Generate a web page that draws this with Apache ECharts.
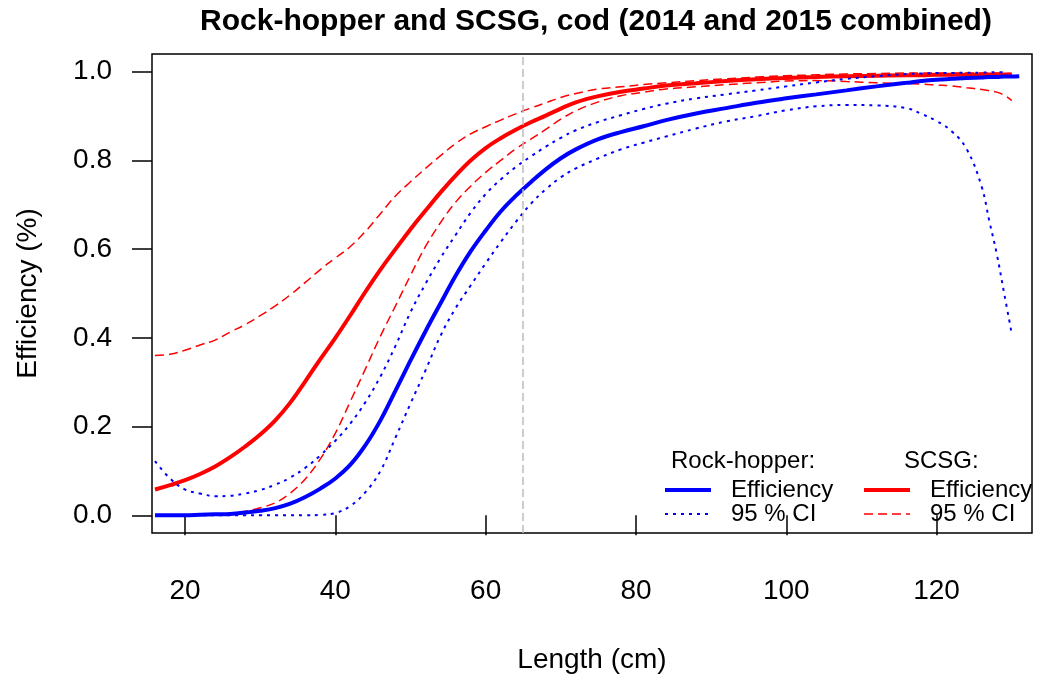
<!DOCTYPE html>
<html>
<head>
<meta charset="utf-8">
<script src="https://cdn.jsdelivr.net/npm/echarts@6/dist/echarts.min.js"></script>
<style>
  html, body { margin: 0; padding: 0; background: #fff; }
  #chart { width: 1039px; height: 682px; }
</style>
</head>
<body>
<div id="chart"></div>
<script>
// lengths (cm) shared by all curves
const lengths = [16, 18, 20, 22, 24, 26, 28, 30, 32, 34, 36, 38, 40, 42, 44, 46, 48, 50, 52, 54,
  56, 58, 60, 62, 64, 66, 68, 70, 72, 75, 78, 81, 84, 88, 92, 96, 100, 104, 108, 112,
  116, 118, 120, 122, 124, 126, 127, 128, 129, 130, 131];

// Rock-hopper
const rhEff = [0, 0, 0, 0.001, 0.002, 0.003, 0.006, 0.010, 0.016, 0.026, 0.041, 0.060, 0.083, 0.114, 0.158, 0.214, 0.281, 0.349, 0.415, 0.478,
  0.540, 0.595, 0.642, 0.685, 0.720, 0.751, 0.780, 0.805, 0.825, 0.848, 0.864, 0.877, 0.891, 0.906, 0.918, 0.930, 0.940, 0.949, 0.958, 0.967,
  0.975, 0.979, 0.982, 0.984, 0.986, 0.987, 0.988, 0.988, 0.989, 0.989, 0.990];
const rhUpper = [0.122, 0.083, 0.058, 0.049, 0.043, 0.044, 0.049, 0.057, 0.069, 0.085, 0.107, 0.135, 0.168, 0.207, 0.255, 0.313, 0.382, 0.458, 0.522, 0.580,
  0.632, 0.682, 0.724, 0.757, 0.785, 0.809, 0.831, 0.851, 0.868, 0.887, 0.902, 0.916, 0.928, 0.940, 0.949, 0.958, 0.967, 0.976, 0.984, 0.990,
  0.995, 0.996, 0.997, 0.997, 0.998, 0.998, 0.999, 0.999, 0.999, null, null];
const rhLower = [0, 0, 0, 0, 0, 0, 0, 0, 0, 0, 0, 0.001, 0.005, 0.021, 0.052, 0.100, 0.175, 0.252, 0.327, 0.405,
  0.467, 0.518, 0.568, 0.616, 0.661, 0.702, 0.735, 0.762, 0.782, 0.805, 0.825, 0.840, 0.854, 0.872, 0.888, 0.900, 0.913, 0.922, 0.925, 0.924,
  0.918, 0.905, 0.889, 0.866, 0.826, 0.741, 0.665, 0.590, 0.500, 0.410, null];

// SCSG
const scEff = [0.058, 0.068, 0.079, 0.093, 0.110, 0.131, 0.155, 0.182, 0.214, 0.254, 0.302, 0.352, 0.400, 0.451, 0.504, 0.554, 0.600, 0.645, 0.687, 0.728,
  0.766, 0.800, 0.828, 0.850, 0.869, 0.886, 0.901, 0.917, 0.931, 0.945, 0.955, 0.962, 0.969, 0.974, 0.979, 0.983, 0.986, 0.988, 0.990, 0.991,
  0.992, 0.992, 0.993, 0.993, 0.993, 0.994, 0.994, 0.994, 0.994, 0.994, null];
const scUpper = [0.360, 0.363, 0.372, 0.384, 0.395, 0.413, 0.430, 0.450, 0.472, 0.497, 0.525, 0.554, 0.580, 0.606, 0.640, 0.680, 0.720, 0.752, 0.782, 0.811,
  0.838, 0.860, 0.876, 0.891, 0.905, 0.918, 0.930, 0.942, 0.951, 0.961, 0.966, 0.971, 0.975, 0.980, 0.984, 0.988, 0.991, 0.993, 0.995, 0.996,
  0.997, 0.997, 0.997, 0.997, 0.997, 0.997, 0.997, 0.997, 0.996, 0.996, null];
const scLower = [0, 0, 0, 0.001, 0.002, 0.004, 0.009, 0.017, 0.028, 0.050, 0.082, 0.127, 0.185, 0.257, 0.330, 0.404, 0.472, 0.541, 0.606, 0.660,
  0.706, 0.742, 0.773, 0.800, 0.826, 0.848, 0.870, 0.893, 0.912, 0.932, 0.946, 0.954, 0.961, 0.966, 0.971, 0.975, 0.979, 0.980, 0.978, 0.975,
  0.973, 0.972, 0.970, 0.968, 0.964, 0.960, 0.957, 0.954, 0.947, 0.935, null];

const cutLength = 65;
const xTicks = [20, 40, 60, 80, 100, 120];
const yTicks = [0, 0.2, 0.4, 0.6, 0.8, 1.0];

const legendNames = {
  rhEff: 'Efficiency', rhCI: '95 % CI',
  scEff: 'Efficiency', scCI: '95 % CI'
};

const FONT = '"Liberation Sans", Arial, sans-serif';

function pairs(values) {
  const out = [];
  values.forEach((v, i) => {
    if (v !== null) out.push([lengths[i], v]);
  });
  return out;
}

function curve(name, values, color, width, type) {
  return {
    name: name,
    type: 'line',
    data: pairs(values),
    showSymbol: false,
    symbol: 'none',
    smooth: 0.4,
    silent: true,
    clip: true,
    lineStyle: { color: color, width: width, type: type },
    itemStyle: { color: color }
  };
}

const redDash = [9, 5];
const blueDot = [3, 5];

const series = [
  curve('scCI', scUpper, '#ff0000', 1.5, redDash),
  curve('scCI', scLower, '#ff0000', 1.5, redDash),
  curve('scEff', scEff, '#ff0000', 4, 'solid'),
  curve('rhCI', rhUpper, '#0000ff', 2, blueDot),
  curve('rhCI', rhLower, '#0000ff', 2, blueDot),
  curve('rhEff', rhEff, '#0000ff', 4, 'solid')
];

// vertical reference line
series[0].markLine = {
  silent: true,
  symbol: 'none',
  label: { show: false },
  lineStyle: { color: '#bdbdbd', type: [8, 4], width: 1.5 },
  data: [{ xAxis: cutLength }]
};

function legendBlock(left, names) {
  return {
    left: left,
    top: 478,
    padding: 0,
    orient: 'vertical',
    itemWidth: 46,
    itemHeight: 22,
    itemGap: 0,
    selectedMode: false,
    data: names,
    itemStyle: { opacity: 0 },
    lineStyle: { width: 'inherit' },
    formatter: (n) => legendNames[n],
    textStyle: { fontFamily: FONT, fontSize: 24, color: '#000', lineHeight: 14, padding: [8, 0, 0, 15] }
  };
}

const chart = echarts.init(document.getElementById('chart'));
chart.setOption({
  animation: false,
  backgroundColor: '#fff',
  textStyle: { fontFamily: FONT },
  grid: {
    left: 152, right: 7, top: 54, bottom: 149,
    show: true, borderColor: '#000', borderWidth: 1.5, backgroundColor: 'transparent'
  },
  xAxis: {
    type: 'value',
    min: 15.6,
    max: 132.7,
    name: 'Length (cm)',
    nameLocation: 'middle',
    nameGap: 113,
    nameTextStyle: { fontFamily: FONT, fontSize: 28, color: '#000' },
    axisLine: { show: false },
    axisTick: { show: true, length: 20, lineStyle: { color: '#000', width: 1.5 }, customValues: xTicks },
    axisLabel: { fontFamily: FONT, fontSize: 28, color: '#000', margin: 44, customValues: xTicks },
    splitLine: { show: false }
  },
  yAxis: {
    type: 'value',
    min: -0.04,
    max: 1.04,
    name: 'Efficiency (%)',
    nameLocation: 'middle',
    nameGap: 110,
    nameRotate: 90,
    nameTextStyle: { fontFamily: FONT, fontSize: 28, color: '#000' },
    axisLine: { show: false },
    axisTick: { show: true, length: 20, lineStyle: { color: '#000', width: 1.5 }, customValues: yTicks },
    axisLabel: {
      fontFamily: FONT, fontSize: 28, color: '#000', margin: 40, customValues: yTicks,
      formatter: (v) => v.toFixed(1)
    },
    splitLine: { show: false }
  },
  legend: [
    legendBlock(663, ['rhEff', 'rhCI']),
    legendBlock(862, ['scEff', 'scCI'])
  ],
  graphic: [
    {
      type: 'text', x: 596, y: 22,
      style: {
        text: 'Rock-hopper and SCSG, cod (2014 and 2015 combined)',
        fontFamily: FONT, fontSize: 30, fontWeight: 'bold', fill: '#000',
        textAlign: 'center', textVerticalAlign: 'middle'
      }
    },
    {
      type: 'text', x: 671, y: 461,
      style: { text: 'Rock-hopper:', fontFamily: FONT, fontSize: 24, fill: '#000', textVerticalAlign: 'middle' }
    },
    {
      type: 'text', x: 904, y: 461,
      style: { text: 'SCSG:', fontFamily: FONT, fontSize: 24, fill: '#000', textVerticalAlign: 'middle' }
    }
  ],
  series: series
});
</script>
</body>
</html>
